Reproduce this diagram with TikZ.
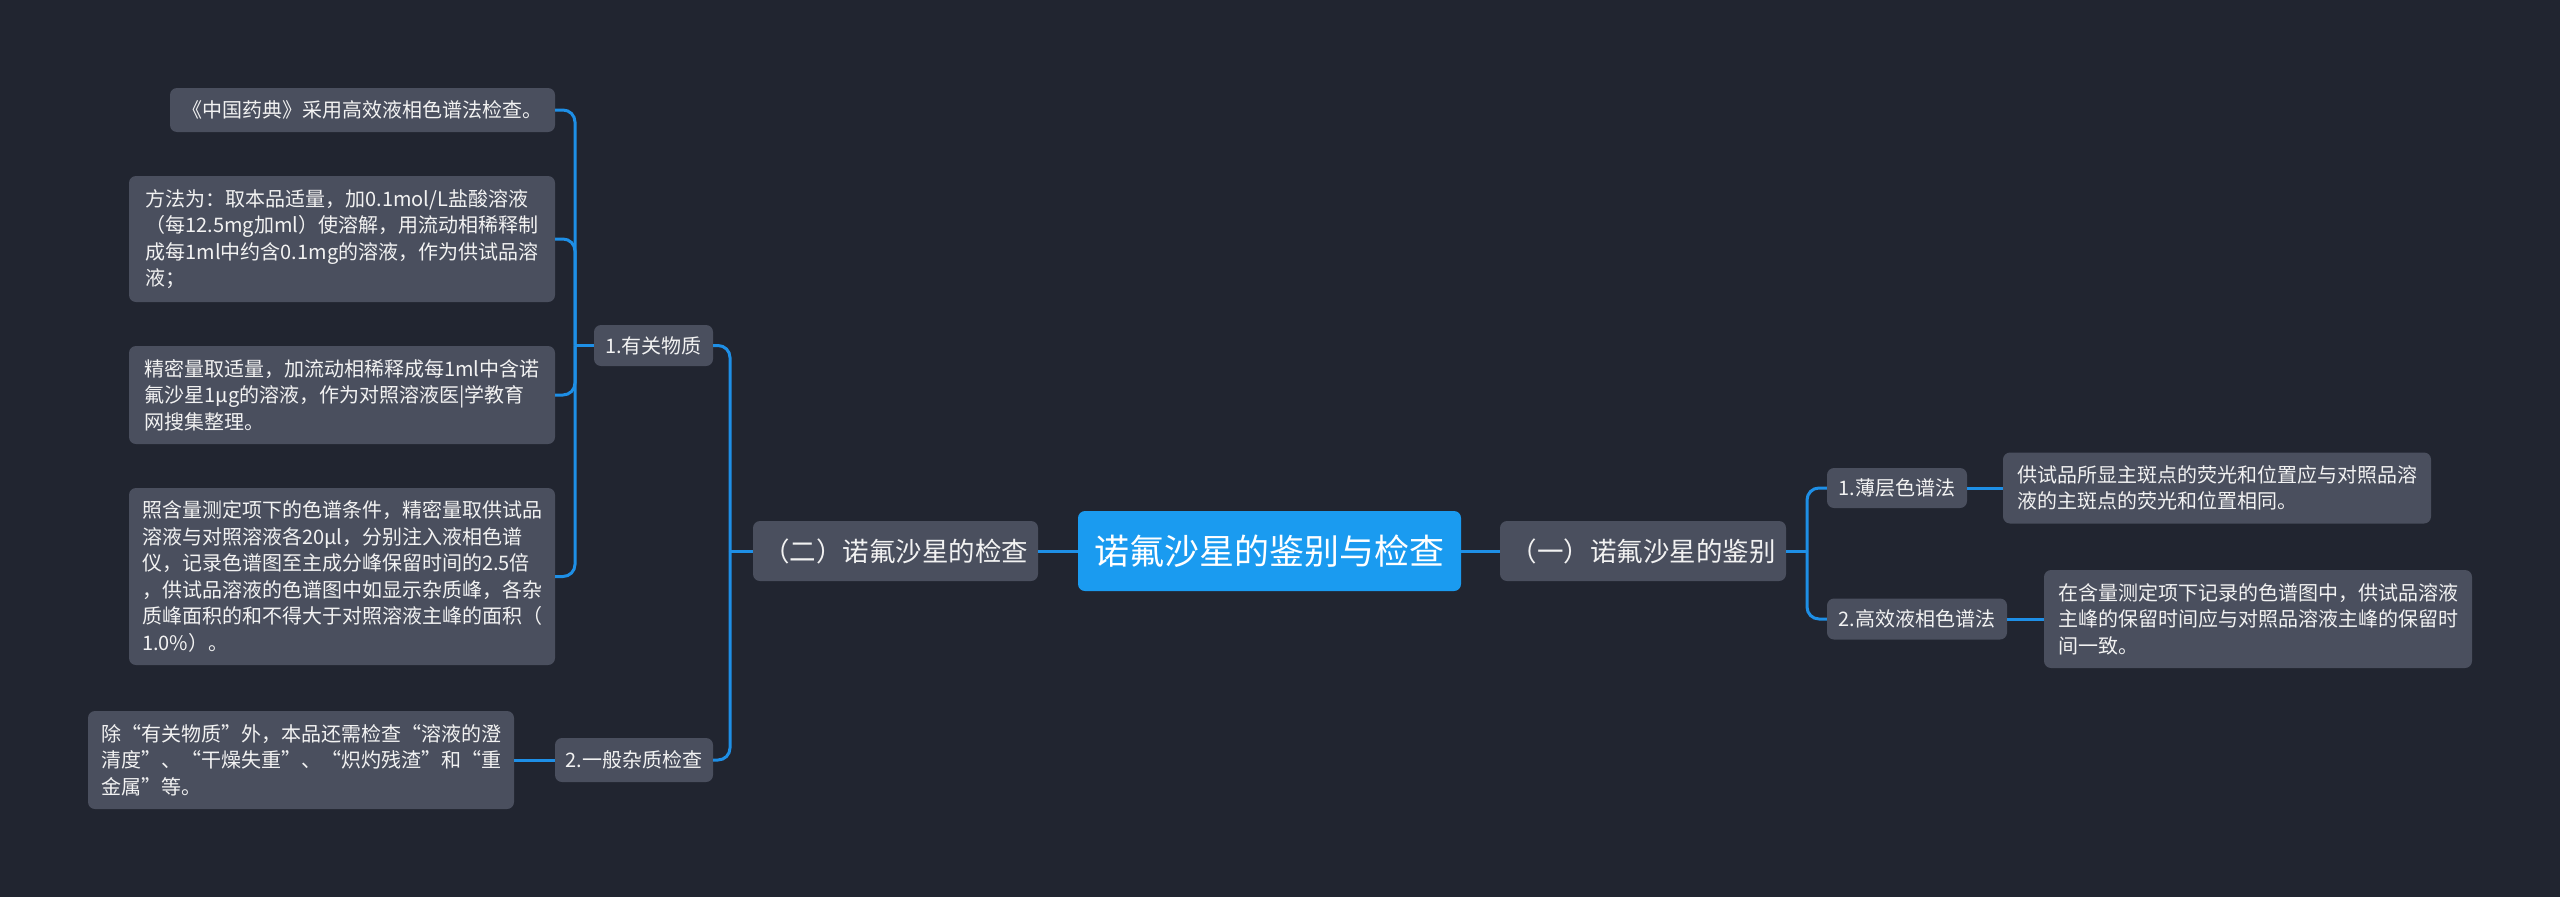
\documentclass[tikz,border=0pt]{standalone}
\usepackage{fontspec}
\setmainfont{Noto Sans CJK SC}
\usetikzlibrary{calc}
\definecolor{bgc}{HTML}{212530}
\definecolor{boxc}{HTML}{4A4F5E}
\definecolor{hubc}{HTML}{1A9BF0}
\definecolor{wirec}{HTML}{1E8FE6}
\definecolor{inkc}{HTML}{F2F2F2}
\tikzset{
  boxbase/.style={fill=boxc, rounded corners=7pt, text=inkc, inner sep=0pt},
  leaf/.style={boxbase, align=left, font=\fontsize{20pt}{26.5pt}\selectfont},
  midnode/.style={boxbase, font=\fontsize{20pt}{24pt}\selectfont},
  branchnode/.style={boxbase, font=\fontsize{26.5pt}{30pt}\selectfont},
  hubnode/.style={fill=hubc, rounded corners=7pt, text=white, inner sep=0pt, font=\fontsize{35pt}{40pt}\selectfont},
  wire/.style={draw=wirec, line width=3pt},
  buswire/.style={wire, rounded corners=12pt}
}
\begin{document}
\begin{tikzpicture}[x=1pt,y=-1pt]
\fill[bgc] (0,0) rectangle (2560,897);
\useasboundingbox (0,0) rectangle (2560,897);

% main nodes
\node[hubnode, minimum width=383pt, minimum height=80pt] (root) at (1269.5,551) {诺氟沙星的鉴别与检查};
\node[branchnode, minimum width=285pt, minimum height=60pt] (b2) at (895.5,551) {（二）诺氟沙星的检查};
\node[branchnode, minimum width=286pt, minimum height=60pt] (b1) at (1643,551) {（一）诺氟沙星的鉴别};

% left mid nodes
\node[midnode, minimum width=119pt, minimum height=41pt] (m1) at (653.5,345.5) {1.有关物质};
\node[midnode, minimum width=158pt, minimum height=44pt] (m2) at (634,760) {2.一般杂质检查};

% right mid nodes
\node[midnode, minimum width=140pt, minimum height=40pt] (r1) at (1897,488) {1.薄层色谱法};
\node[midnode, minimum width=180pt, minimum height=41pt] (r2) at (1917,619) {2.高效液相色谱法};

% left leaves
\node[leaf, minimum width=385pt, minimum height=44pt] (la) at (362.5,110) {《中国药典》采用高效液相色谱法检查。};
\node[leaf, minimum width=426pt, minimum height=126pt] (lb) at (342,239) {方法为：取本品适量，加0.1mol/L盐酸溶液\\（每12.5mg加ml）使溶解，用流动相稀释制\\成每1ml中约含0.1mg的溶液，作为供试品溶\\液；};
\node[leaf, minimum width=426pt, minimum height=98pt] (lc) at (342,395) {精密量取适量，加流动相稀释成每1ml中含诺\\氟沙星1μg的溶液，作为对照溶液医|学教育\\网搜集整理。};
\node[leaf, minimum width=426pt, minimum height=177pt] (ld) at (342,576.5) {照含量测定项下的色谱条件，精密量取供试品\\溶液与对照溶液各20μl，分别注入液相色谱\\仪，记录色谱图至主成分峰保留时间的2.5倍\\，供试品溶液的色谱图中如显示杂质峰，各杂\\质峰面积的和不得大于对照溶液主峰的面积（\\1.0\%）。};
\node[leaf, minimum width=426pt, minimum height=98pt] (le) at (301,760) {除“有关物质”外，本品还需检查“溶液的澄\\清度”、“干燥失重”、“炽灼残渣”和“重\\金属”等。};

% right leaves
\node[leaf, minimum width=428pt, minimum height=71pt] (ra) at (2217,488) {供试品所显主斑点的荧光和位置应与对照品溶\\液的主斑点的荧光和位置相同。};
\node[leaf, minimum width=428pt, minimum height=98pt] (rb) at (2258,619) {在含量测定项下记录的色谱图中，供试品溶液\\主峰的保留时间应与对照品溶液主峰的保留时\\间一致。};

% bus coordinates
\coordinate (busA) at (730,0);
\coordinate (busB) at (575,0);
\coordinate (busC) at (1807,0);

% connectors
\draw[wire] (root.west) -- (b2.east);
\draw[wire] (root.east) -- (b1.west);

\draw[wire] (b2.west) -- (b2.west -| busA);
\draw[buswire] (b2.west -| busA) |- (m1.east);
\draw[buswire] (b2.west -| busA) |- (m2.east);

\draw[wire] (m1.west) -- (m1.west -| busB);
\draw[buswire] (m1.west -| busB) |- (la.east);
\draw[buswire] (m1.west -| busB) |- (lb.east);
\draw[buswire] (m1.west -| busB) |- (lc.east);
\draw[buswire] (m1.west -| busB) |- (ld.east);

\draw[wire] (m2.west) -- (le.east);

\draw[wire] (b1.east) -- (b1.east -| busC);
\draw[buswire] (b1.east -| busC) |- (r1.west);
\draw[buswire] (b1.east -| busC) |- (r2.west);

\draw[wire] (r1.east) -- (ra.west);
\draw[wire] (r2.east) -- (rb.west);
\end{tikzpicture}
\end{document}
